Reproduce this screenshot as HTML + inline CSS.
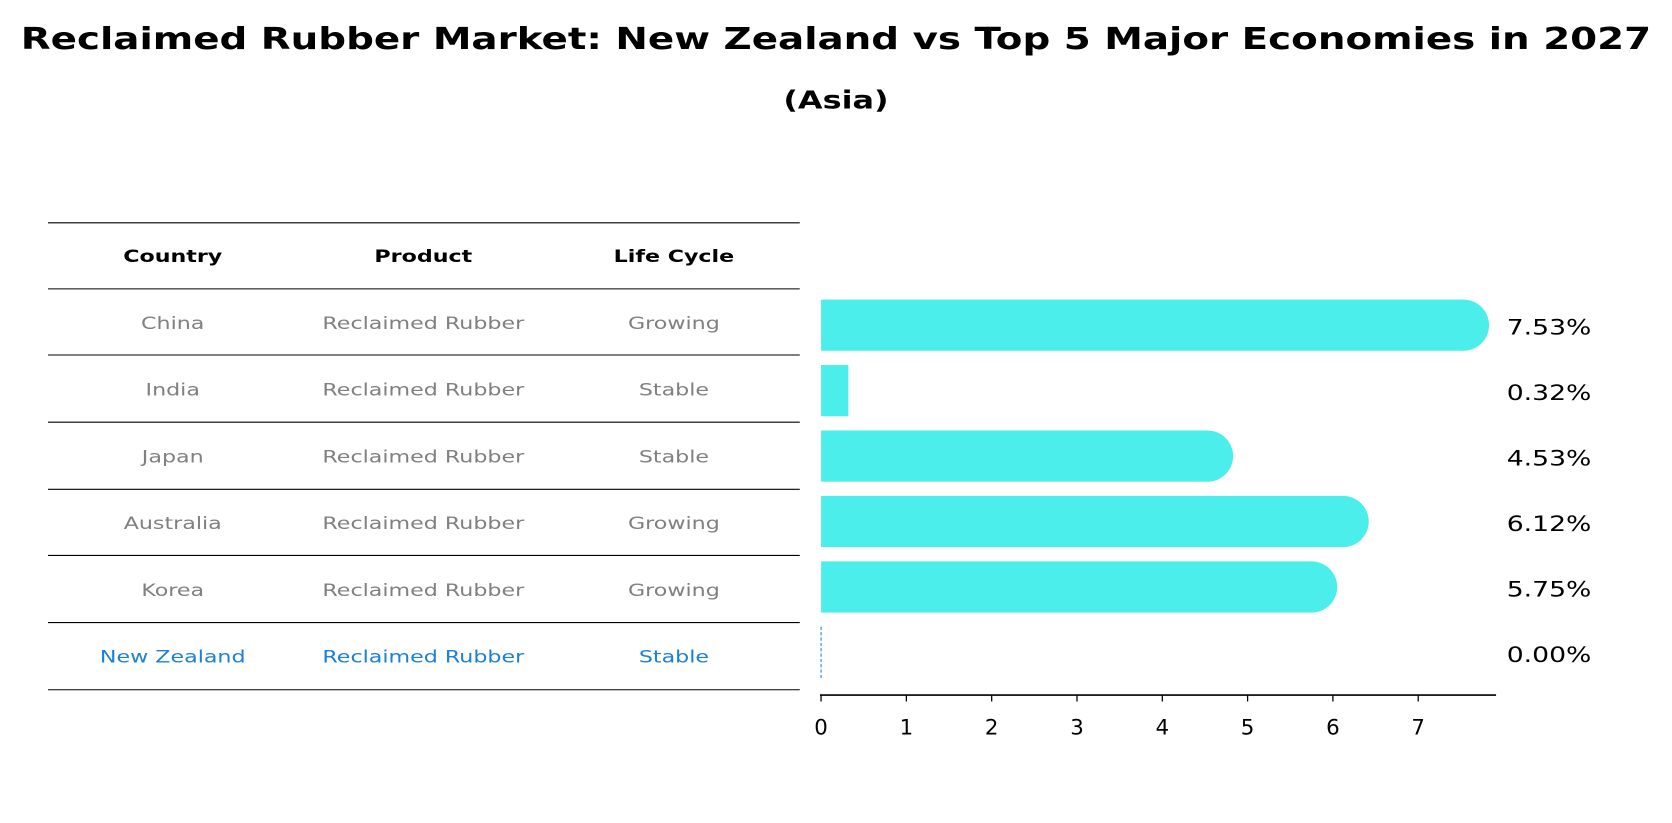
<!DOCTYPE html>
<html><head><meta charset="utf-8"><style>
html,body{margin:0;padding:0;background:#fff;}
svg{display:block;font-family:"DejaVu Sans","Liberation Sans",sans-serif;}
</style></head><body>
<svg id="chart" width="1672" height="823" viewBox="0 0 1568 772" preserveAspectRatio="none" xmlns="http://www.w3.org/2000/svg">
<text id="title" x="784" y="46" text-anchor="middle" font-size="28" font-weight="bold">Reclaimed Rubber Market: New Zealand vs Top 5 Major Economies in 2027</text>
<text id="subtitle" x="784" y="102" text-anchor="middle" font-size="23" font-weight="bold">(Asia)</text>
<g id="table"></g>
<g id="bars"></g>
<g id="axis"></g>
</svg>
<script>
const countries = ["China","India","Japan","Australia","Korea","New Zealand"];
const products = ["Reclaimed Rubber","Reclaimed Rubber","Reclaimed Rubber","Reclaimed Rubber","Reclaimed Rubber","Reclaimed Rubber"];
const lifeCycles = ["Growing","Stable","Stable","Growing","Growing","Stable"];
const values = [7.53,0.32,4.53,6.12,5.75,0.00];
const xTicks = [0,1,2,3,4,5,6,7];

const NS="http://www.w3.org/2000/svg";
function mk(tag,attrs,parent,txt){const e=document.createElementNS(NS,tag);for(const k in attrs)e.setAttribute(k,attrs[k]);if(txt!==undefined)e.textContent=txt;parent.appendChild(e);return e;}
function widen(t,ratio){const w=t.getComputedTextLength();t.setAttribute('textLength',(w*ratio).toFixed(1));t.setAttribute('lengthAdjust','spacingAndGlyphs');}
const x = v => 770 + v*80;
const rowY = i => 305 + i*61.4;
const table=document.getElementById('table');
const bars=document.getElementById('bars');
const axis=document.getElementById('axis');

widen(document.getElementById('title'),1.3);
widen(document.getElementById('subtitle'),1.3);

const lineYs=[209,271,333,396,459,521,584,647];
lineYs.forEach(ly=>{
  const l=mk('line',{x1:45,x2:750,y1:ly,y2:ly,stroke:'#000','stroke-width':1},table);
  
  
});
const colX=[162,397,632];
["Country","Product","Life Cycle"].forEach((h,i)=>{
  const t=mk('text',{x:colX[i],y:246,'text-anchor':'middle','font-size':16,'font-weight':'bold'},table,h);
  
  
  widen(t,1.3);
});
countries.forEach((c,i)=>{
  const col = i===countries.length-1 ? '#1a80d9' : '#808080';
  const cy = 240 + (i+1)*62.6 + 6;
  [c,products[i],lifeCycles[i]].forEach((txt,j)=>{
    const t=mk('text',{x:colX[j],y:cy,'text-anchor':'middle','font-size':16,fill:col},table,txt);
    
    
    widen(t,1.3);
  });
});

const bh=48, r=24, color='#4beeea';
values.forEach((v,i)=>{
  const cy=rowY(i);
  if(v<=0){
    const d=mk('line',{x1:x(0),x2:x(0),y1:cy-24,y2:cy+24,stroke:'#1a80d9','stroke-width':1,'stroke-dasharray':'3,2'},bars);
    
    
  } else {
    const rect=mk('rect',{x:x(0),y:cy-bh/2,width:x(v)-x(0),height:bh,fill:color},bars);
    
    
    if(v>1){
      const cap=mk('circle',{cx:x(v),cy:cy,r:r,fill:color},bars);
      
      
    }
  }
  const lab=mk('text',{x:1413,y:cy+9,'font-size':20},bars,v.toFixed(2)+'%');
  
  
  widen(lab,1.25);
});

const al=mk('line',{x1:769,x2:1403,y1:652,y2:652,stroke:'#000','stroke-width':1.5},axis);


xTicks.forEach(t=>{
  const tk=mk('line',{x1:x(t),x2:x(t),y1:652,y2:658,stroke:'#000','stroke-width':1.2},axis);
  
  
  const tl=mk('text',{x:x(t),y:689,'text-anchor':'middle','font-size':20},axis,String(t));
  
  
});
</script>
</body></html>
